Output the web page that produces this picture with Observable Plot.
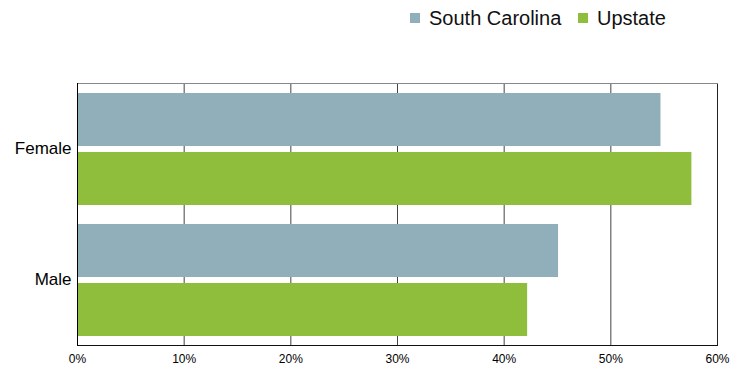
<!DOCTYPE html>
<html><head><meta charset="utf-8">
<script src="https://cdn.jsdelivr.net/npm/d3@7"></script>
<script src="https://cdn.jsdelivr.net/npm/@observablehq/plot@0.6"></script>
<style>
body{margin:0;background:#fff;font-family:Arial,"Liberation Sans",sans-serif;}
#legend{position:relative;height:40px;width:741px;}
.item{position:absolute;top:6px;font-size:20px;line-height:24px;color:#111;display:flex;align-items:center;white-space:nowrap;}
.sw{width:10px;height:10px;margin-right:9px;display:inline-block;}
#chart svg{display:block;}
</style></head><body>
<div id="legend"></div>
<div id="chart"></div>
<script>
const genders = ["Female", "Male"];
const regions = ["South Carolina", "Upstate"];
const southCarolina = [54.7, 45.1];
const upstate = [57.6, 42.2];
const colors = ["#90afba", "#8fbe3c"];
const xTicks = [0, 10, 20, 30, 40, 50, 60];

const data = [];
genders.forEach((g, i) => {
  data.push({gender: g, region: regions[0], value: southCarolina[i]});
  data.push({gender: g, region: regions[1], value: upstate[i]});
});

// legend
const legend = document.getElementById("legend");
const legendX = [410, 578];
regions.forEach((r, i) => {
  const it = document.createElement("div");
  it.className = "item";
  it.style.left = legendX[i] + "px";
  const sw = document.createElement("span");
  sw.className = "sw";
  sw.style.background = colors[i];
  it.appendChild(sw);
  it.appendChild(document.createTextNode(r));
  legend.appendChild(it);
});

const chart = Plot.plot({
  width: 741,
  height: 329,
  marginTop: 43,
  marginBottom: 24,
  marginLeft: 77,
  marginRight: 24,
  style: {fontFamily: "Arial, 'Liberation Sans', sans-serif", fontSize: "12px", color: "#000", background: "#fff"},
  x: {domain: [0, 60], ticks: xTicks, tickFormat: d => d + "%", tickSize: 0, tickPadding: 9, label: null},
  y: {domain: regions, axis: null, paddingInner: 0.106, paddingOuter: 0.151},
  fy: {domain: genders, padding: 0, label: null},
  color: {domain: regions, range: colors},
  marks: [
    Plot.gridX(xTicks.slice(1, -1), {stroke: "#444", strokeOpacity: 1}),
    Plot.barX(data, {x: "value", y: "region", fy: "gender", fill: "region"}),
    Plot.ruleX([60], {stroke: "#222"}),
    Plot.frame({anchor: "top", facetAnchor: "top", stroke: "#888"}),
    Plot.frame({anchor: "bottom", facetAnchor: "bottom", stroke: "#111"}),
    Plot.ruleX([0], {stroke: "#000"}),
    Plot.axisFy({anchor: "left", tickSize: 0, tickPadding: 6, fontSize: 17, label: null})
  ]
});
document.getElementById("chart").appendChild(chart);
</script>
</body></html>
